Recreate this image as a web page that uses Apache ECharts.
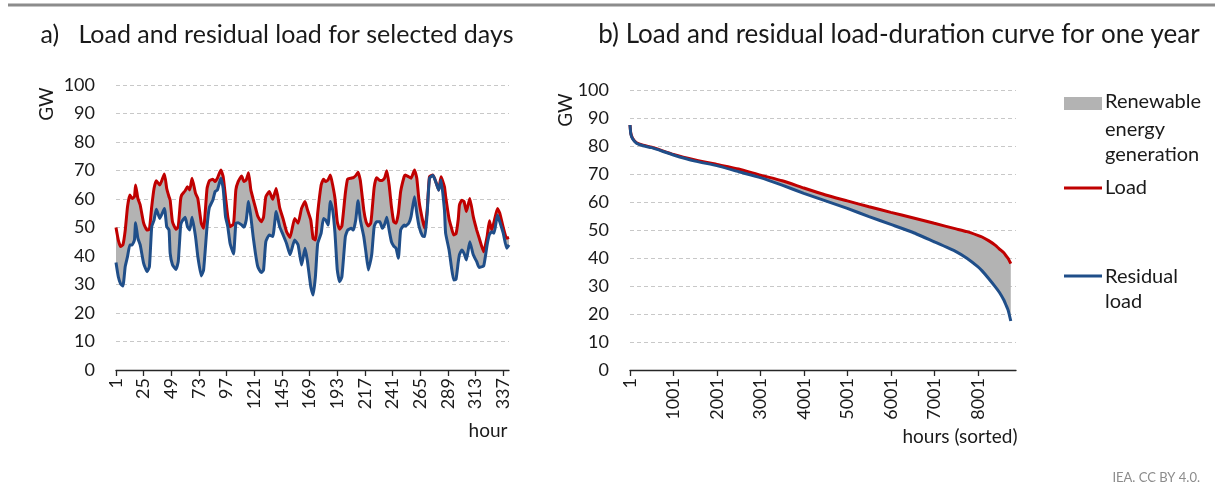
<!DOCTYPE html>
<html><head><meta charset="utf-8">
<script src="https://cdn.jsdelivr.net/npm/echarts@6/dist/echarts.min.js"></script>
<style>html,body{margin:0;padding:0;background:#fff}#c{width:1215px;height:497px}</style>
</head><body><div id="c"></div>
<script>
// ---- a) selected days (hourly) ----
const dayHours = [1,3,5,7,9,11,13,15,17,18,20,22,25,28,30,32,34,36,39,43,45,47,48,50,53,55,57,58,61,63,65,67,70,72,75,77,80,82,85,87,89,92,94,96,98,100,103,105,107,110,112,114,116,118,120,122,124,127,129,131,134,137,140,143,146,149,152,156,159,162,165,167,170,172,174,176,179,181,183,185,187,189,191,193,195,197,200,202,205,207,209,211,213,216,218,220,222,223,225,227,230,232,234,236,238,240,242,244,246,248,251,252,255,257,260,262,264,267,269,271,273,276,279,281,283,286,287,290,292,294,296,298,299,301,303,305,308,311,314,316,320,323,325,327,329,332,334,337,340,342];
const dayLoad = [50.0,45.6,43.3,43.9,49.0,57.3,61.4,60.2,60.8,64.9,60.2,57.9,51.5,49.1,49.4,57.3,63.7,66.4,64.9,68.8,63.7,60.8,59.6,52.0,49.4,50.3,59.6,61.4,62.9,64.3,63.2,67.3,62.0,60.2,51.5,49.7,63.7,66.4,66.9,66.1,67.3,70.2,67.8,60.8,53.8,50.3,51.2,63.2,66.1,68.1,66.1,66.7,69.2,63.2,60.0,57.0,54.0,52.0,53.6,60.8,62.6,59.9,63.7,57.0,53.0,48.5,46.5,53.2,51.5,56.7,59.1,56.4,52.6,46.2,45.6,55.0,64.9,66.9,66.1,66.7,68.4,64.9,60.2,52.0,49.4,50.5,62.0,67.0,67.3,67.5,68.2,69.4,66.5,56.1,52.0,50.5,51.5,55.0,64.0,67.5,66.5,66.5,67.3,69.9,64.9,57.3,52.0,51.5,55.0,62.6,67.8,68.4,67.8,67.3,70.2,67.3,59.1,52.6,49.7,56.1,67.8,68.4,65.5,63.2,67.8,64.3,61.0,53.0,50.0,47.4,47.8,53.0,57.9,59.6,59.1,55.6,60.2,53.8,49.1,46.5,41.5,46.8,52.4,49.1,52.0,56.7,55.0,50.0,46.2,46.5];
const dayResidual = [37.7,32.7,30.2,29.5,36.3,39.8,43.9,43.9,45.6,51.7,46.2,43.9,37.4,34.5,36.3,50.3,52.6,56.4,53.2,56.7,50.3,49.1,40.9,36.9,35.3,38.0,50.3,52.0,53.6,50.3,49.1,53.6,46.8,39.8,33.0,35.1,50.3,57.0,59.6,62.6,63.2,67.3,63.7,53.8,50.3,44.4,40.7,51.5,51.7,50.9,50.1,52.6,59.1,53.8,46.8,40.9,36.3,34.2,35.1,45.0,47.4,46.8,55.6,50.3,47.4,44.4,40.4,45.6,43.9,36.8,42.7,38.5,29.2,26.3,32.7,44.4,48.0,53.2,52.6,50.9,59.1,56.1,48.0,35.1,31.0,32.7,46.8,49.1,49.7,49.1,52.6,59.4,52.6,46.8,40.9,35.1,38.5,40.9,50.3,52.0,52.0,49.7,51.0,53.6,49.1,45.0,43.5,42.7,39.2,49.1,50.9,50.5,51.5,53.8,60.8,55.0,50.3,47.0,46.8,55.0,67.3,68.3,65.4,63.1,66.7,56.1,48.0,42.1,36.3,31.6,31.8,38.0,40.5,42.1,40.9,38.6,45.0,40.4,38.0,36.0,36.5,43.9,47.5,48.5,48.0,54.4,52.0,48.0,42.7,43.9];
const dayTickLabels = [1,25,49,73,97,121,145,169,193,217,241,265,289,313,337];

// ---- b) load-duration curve (sorted hours) ----
const durHours = [1,20,60,150,300,500,1000,1500,2000,2500,3000,3500,4000,4500,5000,5500,6000,6500,7000,7500,7750,8000,8100,8250,8400,8500,8600,8650,8700,8760];
const durLoad = [87.5,84.5,82.8,81.2,80.3,79.6,77.0,75.0,73.4,71.8,69.6,67.6,65.0,62.5,60.4,58.3,56.3,54.4,52.4,50.4,49.4,48.1,47.5,46.2,44.6,43.2,41.9,40.8,39.8,38.0];
const durResidual = [87.5,84.3,82.6,81.0,80.1,79.4,76.8,74.6,73.0,70.8,68.7,66.0,63.1,60.4,57.7,54.8,52.0,49.2,45.8,42.3,39.9,36.9,35.4,32.7,29.8,27.7,25.0,23.2,21.3,17.5];
const durTickLabels = [1,1001,2001,3001,4001,5001,6001,7001,8001];

const FONT = "Lato, 'Liberation Sans', Arial, sans-serif";
const TXT = '#1a1a1a';
const RED = '#c00000';
const BLUE = '#1f4e89';
const GRAY = '#b3b3b3';

const pairs = (xs, ys) => xs.map((x, i) => [x, ys[i]]);

function xAxisCfg(idx, min, max, ticks) {
  return {
    gridIndex: idx, type: 'value', min: min, max: max,
    axisLine: { lineStyle: { color: '#262626', width: 1.3 } },
    axisTick: { customValues: ticks, length: 6, lineStyle: { color: '#262626', width: 1.3 } },
    axisLabel: { customValues: ticks, rotate: 90, fontSize: 18, margin: 8, color: TXT, fontFamily: FONT,
                 formatter: v => String(v) },
    splitLine: { show: false }
  };
}
function yAxisCfg(idx) {
  return {
    gridIndex: idx, type: 'value', min: 0, max: 100, interval: 10,
    axisLine: { show: false }, axisTick: { show: false },
    axisLabel: { fontSize: 18, margin: 21, color: TXT, fontFamily: FONT },
    splitLine: { lineStyle: { color: '#c8c8c8', type: [4, 3], width: 1 } }
  };
}
function seriesSet(idx, xs, load, resid, sm) {
  return [
    { name: 'Renewable energy generation', type: 'custom', xAxisIndex: idx, yAxisIndex: idx,
      data: [[xs[0], load[0]]], silent: true, z: 1, clip: false,
      renderItem: (params, api) => {
        const top = xs.map((x, i) => api.coord([x, load[i]]));
        const bot = xs.map((x, i) => api.coord([x, resid[i]])).reverse();
        return { type: 'polygon', shape: { points: top.concat(bot) }, style: { fill: GRAY } };
      } },
    { name: 'Load', type: 'line', xAxisIndex: idx, yAxisIndex: idx,
      data: pairs(xs, load), symbol: 'none', smooth: sm,
      lineStyle: { color: RED, width: 3 }, z: 3 },
    { name: 'Residual load', type: 'line', xAxisIndex: idx, yAxisIndex: idx,
      data: pairs(xs, resid), symbol: 'none', smooth: sm,
      lineStyle: { color: BLUE, width: 3 }, z: 4 }
  ];
}

const chart = echarts.init(document.getElementById('c'), null, { renderer: 'canvas' });
const txt = (x, y, s, extra) => Object.assign({ type: 'text', x: x, y: y,
  style: Object.assign({ text: s, fontSize: 20, fontFamily: FONT, fill: TXT, align: 'left', verticalAlign: 'middle' }, extra || {}) });

chart.setOption({
  animation: false,
  backgroundColor: '#ffffff',
  grid: [
    { left: 116, top: 85, width: 393, height: 285 },
    { left: 630, top: 90, width: 386, height: 280 }
  ],
  xAxis: [xAxisCfg(0, 1, 342, dayTickLabels), xAxisCfg(1, 1, 8880, durTickLabels)],
  yAxis: [yAxisCfg(0), yAxisCfg(1)],
  series: [].concat(seriesSet(0, dayHours, dayLoad, dayResidual, 0.15),
                    seriesSet(1, durHours, durLoad, durResidual, 0.15)),
  graphic: [
    { type: 'line', shape: { x1: 8, y1: 5, x2: 1215, y2: 5 }, style: { stroke: '#8c8c8c', lineWidth: 3 } },
    txt(277, 35, 'a)   Load and residual load for selected days', { fontSize: 25, align: 'center' }),
    txt(899, 35, 'b) Load and residual load-duration curve for one year', { fontSize: 26, align: 'center' }),
    Object.assign(txt(47, 104, 'GW', { align: 'center', fontSize: 19 }), { rotation: Math.PI / 2 }),
    Object.assign(txt(566, 110, 'GW', { align: 'center', fontSize: 19 }), { rotation: Math.PI / 2 }),
    txt(488, 431, 'hour', { align: 'center', fontSize: 19 }),
    txt(960, 437, 'hours (sorted)', { align: 'center', fontSize: 19 }),
    { type: 'rect', shape: { x: 1064, y: 97, width: 38, height: 13 }, style: { fill: GRAY } },
    txt(1105, 102, 'Renewable'),
    txt(1105, 130, 'energy'),
    txt(1105, 155, 'generation'),
    { type: 'line', shape: { x1: 1064, y1: 188, x2: 1102, y2: 188 }, style: { stroke: RED, lineWidth: 3 } },
    txt(1105, 188, 'Load'),
    { type: 'line', shape: { x1: 1064, y1: 276, x2: 1102, y2: 276 }, style: { stroke: BLUE, lineWidth: 3 } },
    txt(1105, 277, 'Residual'),
    txt(1105, 302, 'load'),
    txt(1200, 478, 'IEA. CC BY 4.0.', { fontSize: 13, fill: '#8c8c8c', align: 'right' })
  ]
});
</script></body></html>
